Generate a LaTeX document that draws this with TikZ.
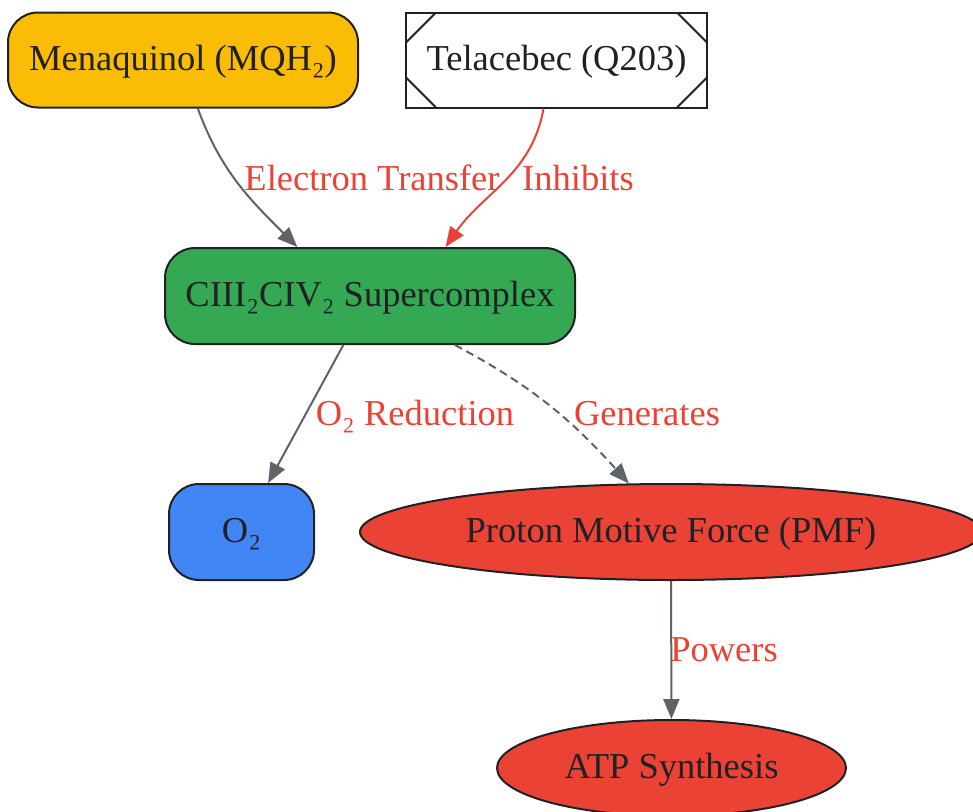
\documentclass[tikz,border=0pt]{standalone}
\usepackage{fontspec}
\setmainfont{Liberation Serif}
\usetikzlibrary{arrows.meta, shapes.geometric}

\definecolor{gyellow}{HTML}{FBBC05}
\definecolor{ggreen}{HTML}{34A853}
\definecolor{gblue}{HTML}{4285F4}
\definecolor{gred}{HTML}{EA4335}
\definecolor{ggray}{HTML}{5F6368}
\definecolor{ink}{HTML}{202124}

\begin{document}
\begin{tikzpicture}[x=1pt, y=1pt,
    font=\fontsize{36.5}{40}\selectfont,
    every node/.style={text height=27pt, text depth=6pt},
    box/.style={draw=ink, line width=2pt, text=ink, rounded corners=30pt, inner sep=0pt},
    msq/.style={draw=ink, line width=2pt, text=ink, fill=white, inner sep=0pt,
        path picture={
            \draw[ink, line width=2pt] ([xshift=30pt]path picture bounding box.north west) -- ([yshift=-30pt]path picture bounding box.north west);
            \draw[ink, line width=2pt] ([xshift=-30pt]path picture bounding box.north east) -- ([yshift=-30pt]path picture bounding box.north east);
            \draw[ink, line width=2pt] ([xshift=30pt]path picture bounding box.south west) -- ([yshift=30pt]path picture bounding box.south west);
            \draw[ink, line width=2pt] ([xshift=-30pt]path picture bounding box.south east) -- ([yshift=30pt]path picture bounding box.south east);
        }},
    oval/.style={ellipse, draw=ink, line width=2pt, text=ink, fill=gred, inner sep=0pt},
    link/.style={ggray, line width=2pt, -{Triangle[length=20pt, width=16pt]}},
    lbl/.style={text=gred, inner sep=0pt}]

    % page size of the reference
    \useasboundingbox (0,0) rectangle (973,-811);

    % nodes
    \node[box, fill=gyellow, minimum width=350pt, minimum height=95pt] (mqh) at (183,-60) {Menaquinol (MQH₂)};
    \node[msq, minimum width=301pt, minimum height=95pt] (tela) at (556.5,-60) {Telacebec (Q203)};
    \node[box, fill=ggreen, minimum width=410pt, minimum height=96pt] (scx) at (370,-296) {CIII₂CIV₂ Supercomplex};
    \node[box, fill=gblue, minimum width=145pt, minimum height=96pt] (oxy) at (241.5,-532) {O₂};
    \node[oval, minimum width=622pt, minimum height=96pt] (pmf) at (671,-532) {Proton Motive Force (PMF)};
    \node[oval, minimum width=349pt, minimum height=96pt] (atp) at (671.5,-768) {ATP Synthesis};

    % edges
    \draw[link] (mqh.-73) to[out=-70, in=135] (scx.146);
    \draw[link, gred] (tela.-105) to[out=-100, in=55] (scx.33);
    \draw[link] (scx) -- (oxy);
    \draw[link, dash pattern=on 8pt off 5pt] (scx.-30) to[out=-28, in=132] (pmf.131);
    \draw[link] (pmf) -- (atp);

    % edge labels
    \node[lbl] (lbet) at (372,-180) {Electron Transfer};
    \node[lbl] (lbin) at (578,-180) {Inhibits};
    \node[lbl] (lbox) at (415,-415) {O₂ Reduction};
    \node[lbl] (lbge) at (647,-415) {Generates};
    \node[lbl] (lbpo) at (724,-651) {Powers};

\end{tikzpicture}
\end{document}
